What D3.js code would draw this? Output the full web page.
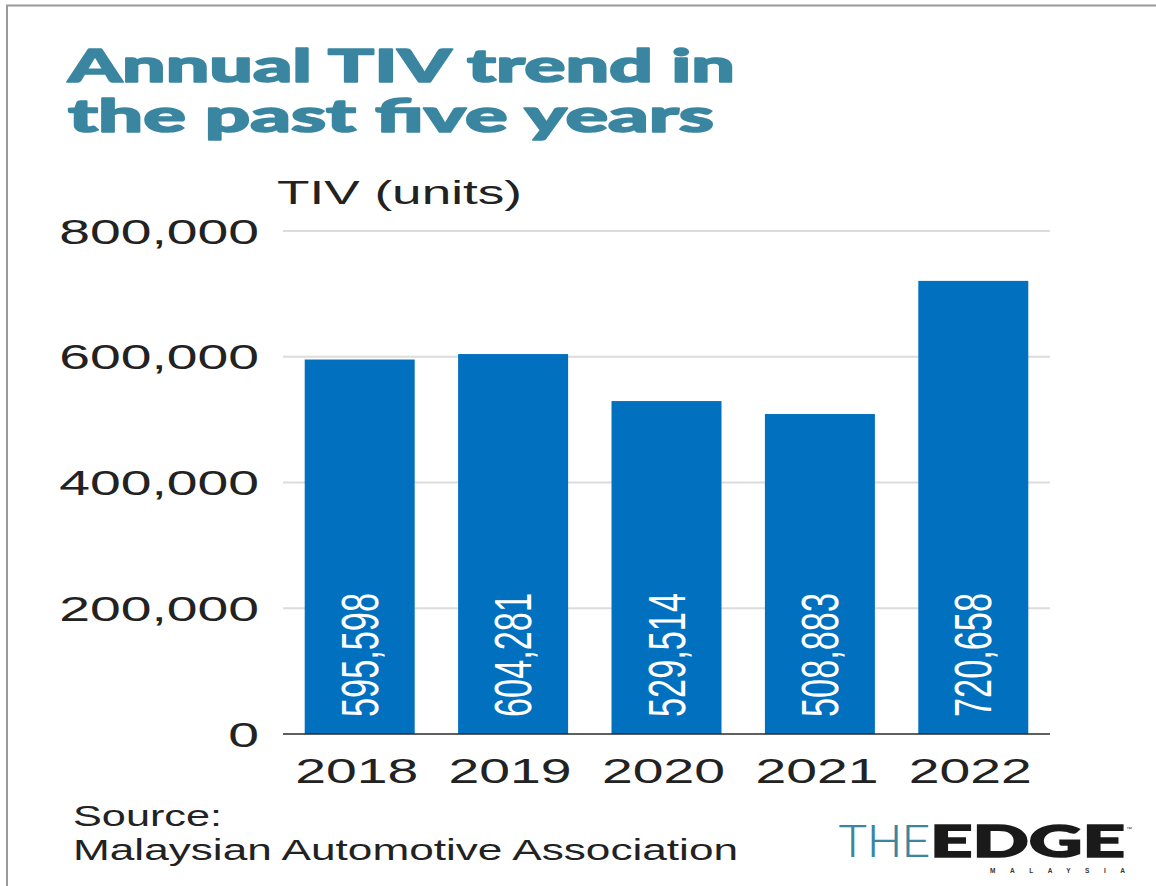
<!DOCTYPE html>
<html>
<head>
<meta charset="utf-8">
<script src="https://cdn.jsdelivr.net/npm/d3@7"></script>
<style>
  html, body { margin: 0; padding: 0; background: #fff; }
  svg { display: block; }
</style>
</head>
<body>
<svg id="chart" width="1156" height="886"></svg>
<script>
// Annual total industry volume (TIV), Malaysia
const years = ["2018", "2019", "2020", "2021", "2022"];
const tivUnits = [595598, 604281, 529514, 508883, 720658];
const yTicks = [0, 200000, 400000, 600000, 800000];
const titleLines = ["Annual TIV trend in", "the past five years"];
const sourceLines = ["Source:", "Malaysian Automotive Association"];

const svg = d3.select("#chart");
const W = 1156, H = 886;
const plot = { left: 283, right: 1050, top: 231, bottom: 734 };
const sansFont = "'Liberation Sans', Arial, Helvetica, sans-serif";
const heavyFont = "Lato, 'DejaVu Sans', sans-serif";
const stretchX = 1.58;

// frame lines
svg.append("line").attr("x1", 6).attr("x2", W).attr("y1", 5.5).attr("y2", 5.5)
  .attr("stroke", "#9a9a9a").attr("stroke-width", 2);
svg.append("line").attr("x1", 7).attr("x2", 7).attr("y1", 5).attr("y2", H)
  .attr("stroke", "#9a9a9a").attr("stroke-width", 2);

// title (extra stroke to get a black-weight look)
const titleWidths = [667, 646];
const titleBase = [82, 132];
titleLines.forEach((t, i) => {
  svg.append("text")
    .attr("x", 68).attr("y", titleBase[i])
    .attr("font-family", heavyFont).attr("font-weight", 900)
    .attr("font-size", 46).attr("fill", "#3a86a0")
    .attr("stroke", "#3a86a0").attr("stroke-width", 1.6).attr("stroke-linejoin", "round")
    .attr("textLength", titleWidths[i]).attr("lengthAdjust", "spacingAndGlyphs")
    .text(t);
});

// axis title
svg.append("text")
  .attr("x", 277).attr("y", 204)
  .attr("font-family", sansFont).attr("font-size", 33).attr("fill", "#222")
  .attr("textLength", 245).attr("lengthAdjust", "spacingAndGlyphs")
  .text("TIV (units)");

const x = d3.scaleBand().domain(years)
  .range([plot.left, plot.right])
  .paddingInner(0.283).paddingOuter(0.1415);
const y = d3.scaleLinear().domain([0, 800000]).range([plot.bottom, plot.top]);

// gridlines
svg.append("g").selectAll("line").data(yTicks.filter(d => d > 0)).join("line")
  .attr("x1", plot.left).attr("x2", plot.right)
  .attr("y1", d => y(d)).attr("y2", d => y(d))
  .attr("stroke", "#dcdcdc").attr("stroke-width", 2);

// y tick labels (wide set)
const fmt = d3.format(",");
svg.append("g").selectAll("text").data(yTicks).join("text")
  .attr("transform", d => `translate(259,${y(d) + 12.5}) scale(${stretchX},1)`)
  .attr("text-anchor", "end")
  .attr("font-family", sansFont).attr("font-size", 35).attr("fill", "#222")
  .text(d => fmt(d));

// bars
svg.append("g").selectAll("rect").data(tivUnits).join("rect")
  .attr("x", (d, i) => x(years[i]))
  .attr("y", d => y(d))
  .attr("width", x.bandwidth())
  .attr("height", d => y(0) - y(d))
  .attr("fill", "#0070bf");

// baseline
svg.append("line").attr("x1", plot.left).attr("x2", plot.right)
  .attr("y1", plot.bottom).attr("y2", plot.bottom)
  .attr("stroke", "#2a2a2a").attr("stroke-width", 1.5);

// value labels inside bars, reading bottom to top
svg.append("g").selectAll("text").data(tivUnits).join("text")
  .attr("transform", (d, i) => `translate(${x(years[i]) + x.bandwidth() / 2 + 18},${plot.bottom - 17}) rotate(-90)`)
  .attr("text-anchor", "start")
  .attr("font-family", sansFont).attr("font-size", 51).attr("fill", "#fff")
  .attr("textLength", 124).attr("lengthAdjust", "spacingAndGlyphs")
  .text(d => fmt(d));

// x tick labels
svg.append("g").selectAll("text").data(years).join("text")
  .attr("transform", d => `translate(${x(d) + x.bandwidth() / 2 - 3},783) scale(${stretchX},1)`)
  .attr("text-anchor", "middle")
  .attr("font-family", sansFont).attr("font-size", 35).attr("fill", "#222")
  .text(d => d);

// source note
const sourceWidths = [149, 665];
const sourceBase = [826, 860];
sourceLines.forEach((t, i) => {
  svg.append("text")
    .attr("x", 73).attr("y", sourceBase[i])
    .attr("font-family", sansFont).attr("font-size", 30).attr("fill", "#222")
    .attr("textLength", sourceWidths[i]).attr("lengthAdjust", "spacingAndGlyphs")
    .text(t);
});

// publisher mark
const mark = svg.append("g");
mark.append("text")
  .attr("x", 838).attr("y", 857)
  .attr("font-family", "Roboto, 'DejaVu Sans', sans-serif").attr("font-weight", 300)
  .attr("font-size", 44).attr("fill", "#3a86a0")
  .attr("textLength", 92).attr("lengthAdjust", "spacingAndGlyphs")
  .text("THE");
mark.append("text")
  .attr("x", 930).attr("y", 857)
  .attr("font-family", heavyFont).attr("font-weight", 900)
  .attr("font-size", 44).attr("fill", "#1a1a1a")
  .attr("stroke", "#1a1a1a").attr("stroke-width", 1.5)
  .attr("textLength", 195).attr("lengthAdjust", "spacingAndGlyphs")
  .text("EDGE");
mark.append("text")
  .attr("x", 1126).attr("y", 831)
  .attr("font-family", sansFont).attr("font-size", 6).attr("fill", "#444")
  .text("™");
mark.append("text")
  .attr("x", 990).attr("y", 873)
  .attr("font-family", sansFont).attr("font-weight", 700)
  .attr("font-size", 6.5).attr("fill", "#333")
  .attr("textLength", 135).attr("lengthAdjust", "spacing")
  .text("MALAYSIA");
</script>
</body>
</html>
